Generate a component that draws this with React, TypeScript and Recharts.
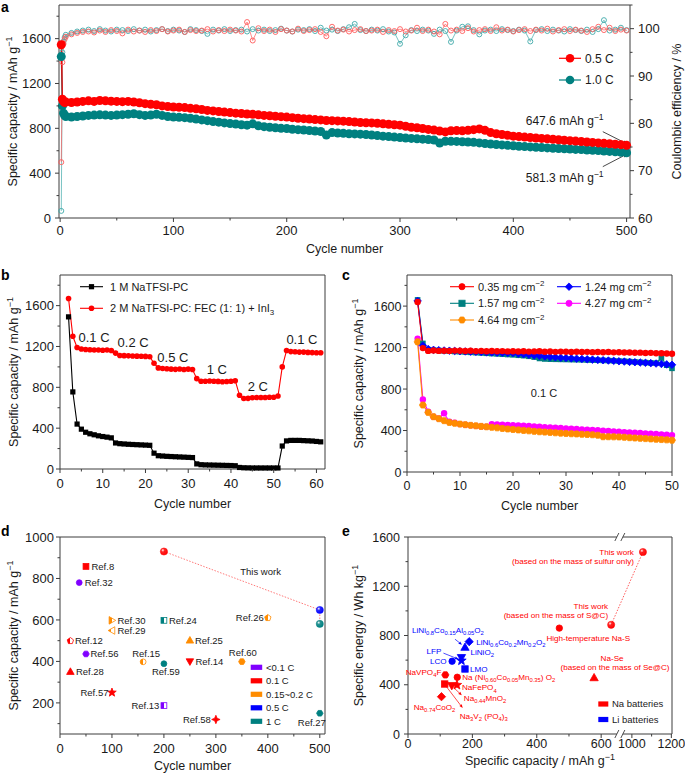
import React from 'react';
import { ComposedChart, Line, Scatter, XAxis, YAxis, ReferenceLine, ReferenceDot, Label } from 'recharts';

const FONT = '"Liberation Sans", Arial, Helvetica, sans-serif';
const AX = '#3c3c3c';
const TXT = '#1a1a1a';
const RED = '#ff0000';
const TEAL = '#008080';
const BLUE = '#0000ff';
const MAGENTA = '#ff00ff';
const ORANGE = '#ff8c00';
const PURPLE = '#8000ff';
const BLACK = '#000000';
const CE_RED = '#ff5a5a';
const CE_TEAL = '#3fa9a9';

// ---------------- Panel a data ----------------
const cycleA = [1, 2, 3, 4, 5,
  10, 15, 20, 25, 30, 35, 40, 45, 50, 55, 60, 65, 70, 75, 80, 85, 90, 95, 100,
  105, 110, 115, 120, 125, 130, 135, 140, 145, 150, 155, 160, 165, 170, 175, 180, 185, 190, 195, 200,
  205, 210, 215, 220, 225, 230, 235, 240, 245, 250, 255, 260, 265, 270, 275, 280, 285, 290, 295, 300,
  305, 310, 315, 320, 325, 330, 335, 340, 345, 350, 355, 360, 365, 370, 375, 380, 385, 390, 395, 400,
  405, 410, 415, 420, 425, 430, 435, 440, 445, 450, 455, 460, 465, 470, 475, 480, 485, 490, 495, 500];
const cap05 = [1545, 1060, 1040, 1030, 1035,
  1030, 1035, 1040, 1045, 1040, 1048, 1045, 1042, 1040, 1038, 1040, 1035, 1028, 1020, 1015, 1010, 1000, 995, 990,
  988, 985, 978, 975, 968, 960, 955, 950, 945, 940, 935, 932, 928, 925, 920, 915, 912, 908, 904, 900,
  895, 890, 886, 882, 878, 875, 870, 868, 866, 864, 860, 856, 852, 850, 848, 845, 840, 836, 832, 828,
  818, 810, 805, 798, 790, 784, 776, 768, 778, 780, 778, 782, 788, 795, 782, 762, 752, 745, 738, 730,
  726, 722, 718, 714, 710, 706, 702, 698, 694, 690, 686, 682, 678, 674, 670, 666, 662, 658, 654, 648];
const cap10 = [1440, 1000, 935, 915, 905,
  900, 905, 910, 915, 918, 920, 918, 915, 918, 922, 925, 930, 922, 915, 918, 925, 915, 905, 900,
  898, 895, 890, 882, 875, 868, 860, 855, 848, 842, 838, 832, 828, 840, 822, 815, 810, 805, 800, 798,
  792, 788, 785, 780, 776, 772, 740, 762, 758, 755, 752, 750, 748, 745, 740, 735, 730, 726, 722, 718,
  714, 710, 706, 703, 700, 696, 668, 685, 684, 683, 680, 678, 675, 670, 665, 660, 656, 652, 648, 644,
  640, 637, 634, 631, 628, 625, 622, 620, 617, 615, 612, 610, 607, 604, 601, 598, 594, 590, 586, 581];
const ce05 = [71.8, 92.9, 96.8, 97.8, 98.3,
  98.8, 99.1, 99.3, 99.4, 99.2, 99.6, 99.3, 99.7, 99.5, 99.0, 99.8, 99.4, 99.6, 99.3, 99.7, 99.5, 99.9, 99.4, 99.6,
  99.8, 99.3, 99.7, 99.5, 99.6, 99.9, 99.4, 99.7, 99.5, 99.8, 99.6, 99.4, 101.4, 97.5, 100.1, 99.5, 99.8, 99.3, 99.9, 99.6,
  99.4, 100.0, 99.5, 99.7, 99.9, 99.3, 98.4, 100.4, 99.6, 99.8, 99.4, 99.7, 99.9, 99.5, 99.6, 99.8, 99.3, 99.7, 99.5, 99.9,
  99.4, 99.6, 100.2, 99.5, 99.8, 99.4, 98.8, 101.0, 99.6, 99.8, 99.5, 100.1, 99.4, 99.7, 99.9, 99.5, 100.3, 99.6, 99.8, 99.4,
  99.7, 99.9, 99.5, 99.8, 99.6, 100.0, 99.4, 99.7, 99.9, 99.5, 99.8, 99.6, 99.3, 99.9, 100.4, 99.7, 100.2, 99.5, 99.8, 99.6];
const ce10 = [61.5, 95.0, 97.3, 98.2, 98.7,
  99.1, 99.4, 99.6, 99.8, 99.5, 99.9, 99.6, 99.4, 99.8, 99.7, 99.5, 99.9, 99.6, 99.8, 99.4, 99.7, 99.9, 99.5, 99.8,
  99.6, 99.3, 99.9, 99.7, 99.5, 98.9, 99.8, 99.6, 99.9, 99.5, 99.7, 99.8, 99.4, 99.9, 99.6, 99.8, 99.5, 99.7, 100.0, 99.6,
  99.4, 99.8, 99.7, 99.9, 99.5, 100.2, 99.6, 99.8, 99.5, 99.9, 100.3, 101.0, 99.7, 99.5, 99.8, 99.6, 99.9, 99.4, 99.2, 96.8,
  98.6, 99.7, 99.5, 99.8, 99.6, 98.9, 99.8, 99.5, 97.2, 99.6, 100.4, 100.5, 99.7, 98.8, 99.6, 99.8, 99.5, 99.9, 99.7, 99.5,
  99.8, 99.6, 97.3, 99.7, 99.9, 99.5, 99.8, 99.6, 99.4, 99.9, 99.7, 99.5, 99.8, 99.3, 99.9, 101.8, 99.6, 99.8, 100.2, 99.7];
const aSeriesNames = ['0.5 C', '1.0 C'];
const aEndLabels = ['647.6 mAh g^{−1}', '581.3 mAh g^{−1}'];
const aXTicks = [0, 50, 100, 150, 200, 250, 300, 350, 400, 450, 500];
const aXMajor = [0, 100, 200, 300, 400, 500];
const aYTicks = [0, 200, 400, 600, 800, 1000, 1200, 1400, 1600, 1800];
const aYMajor = [0, 400, 800, 1200, 1600];
const aCETicks = [60, 65, 70, 75, 80, 85, 90, 95, 100, 105];
const aCEMajor = [60, 70, 80, 90, 100];

// ---------------- Panel b data ----------------
const cycleB = [2, 3, 4, 5, 6, 7, 8, 9, 10, 11, 12, 13, 14, 15, 16, 17, 18, 19, 20, 21, 22, 23, 24, 25, 26, 27, 28, 29, 30, 31,
  32, 33, 34, 35, 36, 37, 38, 39, 40, 41, 42, 43, 44, 45, 46, 47, 48, 49, 50, 51, 52, 53, 54, 55, 56, 57, 58, 59, 60, 61];
const b1M = [1490, 755, 440, 390, 360, 345, 335, 325, 318, 312, 305, 255, 248, 245, 242, 240, 238, 236, 234, 232,
  155, 130, 127, 124, 122, 120, 118, 116, 114, 112, 50, 42, 40, 39, 38, 37, 36, 35, 34, 32,
  15, 12, 11, 10, 10, 10, 10, 10, 10, 10, 225, 275, 280, 280, 280, 278, 276, 274, 270, 266];
const b2M = [1670, 1300, 1190, 1175, 1170, 1168, 1165, 1165, 1163, 1165, 1160, 1135, 1112, 1110, 1108, 1106, 1105, 1104, 1103, 1100,
  1035, 990, 985, 982, 978, 976, 980, 975, 978, 975, 885, 860, 860, 862, 860, 858, 855, 857, 860, 865,
  722, 690, 692, 698, 700, 700, 700, 702, 703, 715, 1000, 1160, 1150, 1148, 1145, 1145, 1142, 1140, 1138, 1138];
const bSeriesNames = ['1 M NaTFSI-PC', '2 M NaTFSI-PC: FEC (1: 1) + InI_{3}'];
const bRateLabels = ['0.1 C', '0.2 C', '0.5 C', '1 C', '2 C', '0.1 C'];
const bXTicks = [0, 5, 10, 15, 20, 25, 30, 35, 40, 45, 50, 55, 60];
const bXMajor = [0, 10, 20, 30, 40, 50, 60];

// ---------------- Panel c data ----------------
const cycleC = [2, 3, 4, 5, 6, 7, 8, 9, 10, 11, 12, 13, 14, 15, 16, 17, 18, 19, 20, 21, 22, 23, 24, 25, 26,
  27, 28, 29, 30, 31, 32, 33, 34, 35, 36, 37, 38, 39, 40, 41, 42, 43, 44, 45, 46, 47, 48, 49, 50];
const c035 = [1640, 1195, 1168, 1172, 1168, 1170, 1168, 1171, 1169, 1167, 1170, 1166, 1168, 1165, 1167, 1164, 1166, 1163, 1165, 1162, 1164, 1161, 1163, 1165, 1160,
  1162, 1159, 1161, 1160, 1158, 1160, 1157, 1159, 1156, 1158, 1155, 1157, 1154, 1155, 1152, 1153, 1150, 1151, 1148, 1149, 1146, 1145, 1143, 1141];
const c124 = [1650, 1220, 1185, 1178, 1175, 1172, 1170, 1168, 1165, 1163, 1161, 1159, 1157, 1155, 1153, 1151, 1150, 1148, 1147, 1140, 1135, 1130, 1125, 1120, 1115,
  1110, 1106, 1102, 1099, 1096, 1093, 1090, 1087, 1084, 1081, 1078, 1075, 1072, 1068, 1065, 1062, 1059, 1056, 1053, 1050, 1046, 1042, 1038, 1034];
const c157 = [1660, 1240, 1180, 1175, 1172, 1168, 1165, 1162, 1160, 1157, 1154, 1151, 1148, 1145, 1142, 1139, 1136, 1133, 1130, 1126, 1122, 1116, 1108, 1095, 1090,
  1088, 1087, 1086, 1085, 1084, 1083, 1082, 1080, 1079, 1078, 1076, 1075, 1073, 1070, 1068, 1065, 1062, 1058, 1055, 1052, 1050, 1100, 1030, 1000];
const c427 = [1285, 700, 582, 533, 517, 566, 485, 475, 462, 456, 450, 445, 440, 436, 462, 458, 455, 453, 452, 449, 446, 443, 440, 436, 433,
  430, 427, 424, 420, 417, 414, 411, 408, 405, 402, 399, 396, 392, 388, 385, 382, 379, 376, 372, 369, 366, 363, 360, 356];
const c464 = [1255, 646, 575, 533, 514, 495, 478, 470, 462, 456, 450, 445, 440, 436, 431, 426, 420, 415, 410, 406, 401, 397, 392, 388, 385,
  382, 378, 375, 372, 369, 367, 364, 362, 359, 355, 340, 340, 339, 338, 335, 331, 328, 325, 322, 319, 316, 313, 310, 307];
const cSeriesNames = ['0.35 mg cm^{−2}', '1.24 mg cm^{−2}', '1.57 mg cm^{−2}', '4.27 mg cm^{−2}', '4.64 mg cm^{−2}'];
const cXTicks = [0, 5, 10, 15, 20, 25, 30, 35, 40, 45, 50];
const cXMajor = [0, 10, 20, 30, 40, 50];

// ---------------- Panel d data ----------------
const dNames = ['Ref.8', 'Ref.32', 'Ref.30', 'Ref.29', 'Ref.12', 'Ref.56', 'Ref.28', 'Ref.57', 'Ref.15', 'Ref.59', 'Ref.24', 'Ref.13', 'Ref.25', 'Ref.14', 'Ref.58', 'Ref.60', 'Ref.26', 'Ref.27'];
const dCycles = [50, 37, 100, 100, 20, 50, 20, 100, 160, 200, 200, 200, 250, 250, 300, 350, 400, 500];
const dCaps = [858, 780, 598, 549, 499, 436, 351, 250, 398, 389, 598, 187, 502, 399, 120, 399, 610, 150];
const dRates = ['0.1 C', '<0.1 C', '0.15~0.2 C', '0.15~0.2 C', '0.1 C', '<0.1 C', '0.1 C', '0.1 C', '0.15~0.2 C', '1 C', '1 C', '<0.1 C', '0.15~0.2 C', '0.1 C', '0.1 C', '0.15~0.2 C', '0.15~0.2 C', '1 C'];
const twCycles = [200, 500, 500];
const twCaps = [930, 648, 581];
const twRates = ['0.1 C', '0.5 C', '1 C'];
const dLegendRates = ['<0.1 C', '0.1 C', '0.15~0.2 C', '0.5 C', '1 C'];
const dXTicks = [0, 50, 100, 150, 200, 250, 300, 350, 400, 450, 500];
const dXMajor = [0, 100, 200, 300, 400, 500];
const dYTicks = [100, 200, 300, 400, 500, 600, 700, 800, 900, 1000];
const dYMajor = [200, 400, 600, 800, 1000];

// ---------------- Panel e data ----------------
const eNames = ['This work (sulfur)', 'This work (S@C)', 'High-temperature Na-S', 'Na-Se', 'NaVPO4F', 'Na(Ni0.60Co0.05Mn0.35)O2',
  'Na3V2(PO4)3', 'Na0.44MnO2', 'NaFePO4', 'Na0.74CoO2', 'LiNi0.8Co0.15Al0.05O2', 'LiNi0.6Co0.2Mn0.2O2', 'LiNiO2', 'LFP', 'LCO', 'LMO'];
const eCap = [1056, 631, 470, 578, 116, 153, 114, 136, 152, 104, 177, 190, 166, 166, 137, 177];
const eEnergy = [1478, 887, 860, 458, 480, 461, 406, 392, 398, 303, 705, 750, 620, 596, 591, 528];
const eType = ['Na', 'Na', 'Na', 'Na', 'Na', 'Na', 'Na', 'Na', 'Na', 'Na', 'Li', 'Li', 'Li', 'Li', 'Li', 'Li'];
const eLegend = ['Na batteries', 'Li batteries'];
const eXTicksReal = [0, 100, 200, 300, 400, 500, 600, 1000, 1100, 1200];
const eXMajorReal = [0, 200, 400, 600, 1000, 1200];
const eYTicks = [0, 200, 400, 600, 800, 1000, 1200, 1400, 1600];
const eYMajor = [0, 400, 800, 1200, 1600];

// ---------------- styles / layout (kept apart from data) ----------------
const RATE_COLOR: Record<string, string> = { '<0.1 C': PURPLE, '0.1 C': RED, '0.15~0.2 C': ORANGE, '0.5 C': BLUE, '1 C': TEAL };
const RATE_KEY: Record<string, string> = { '<0.1 C': 'p', '0.1 C': 'r', '0.15~0.2 C': 'o', '0.5 C': 'b', '1 C': 't' };
const TYPE_COLOR: Record<string, string> = { Na: RED, Li: BLUE };

const BREAK_LO = 658;
const BREAK_HI = 939;
const BREAK_RATIO = 0.613;
const brk = (v: number) => (v <= BREAK_LO ? v : BREAK_LO + (v - BREAK_HI) * BREAK_RATIO);
const unbrk = (u: number) => (u <= BREAK_LO + 1e-9 ? u : BREAK_HI + (u - BREAK_LO) / BREAK_RATIO);

type LabelSpec = { t: string; dx: number; dy: number; a?: 'start' | 'middle' | 'end' };
type DStyle = { kind: string; half?: boolean; lab: LabelSpec };
const D_STYLE: Record<string, DStyle> = {
  'Ref.8': { kind: 'square', lab: { t: 'Ref.8', dx: 5.5, dy: 0 } },
  'Ref.32': { kind: 'circle', lab: { t: 'Ref.32', dx: 5.5, dy: 0 } },
  'Ref.30': { kind: 'triRight', half: true, lab: { t: 'Ref.30', dx: 5.5, dy: 0 } },
  'Ref.29': { kind: 'triLeft', half: true, lab: { t: 'Ref.29', dx: 5.5, dy: 0 } },
  'Ref.12': { kind: 'pent', half: true, lab: { t: 'Ref.12', dx: 4.5, dy: 0 } },
  'Ref.56': { kind: 'hex', lab: { t: 'Ref.56', dx: 4.5, dy: 0 } },
  'Ref.28': { kind: 'triUp', lab: { t: 'Ref.28', dx: 5.5, dy: 0 } },
  'Ref.57': { kind: 'star', lab: { t: 'Ref.57', dx: -3.5, dy: 0, a: 'end' } },
  'Ref.15': { kind: 'circle', half: true, lab: { t: 'Ref.15', dx: 3, dy: -8.5, a: 'middle' } },
  'Ref.59': { kind: 'circle', lab: { t: 'Ref.59', dx: 2, dy: 8, a: 'middle' } },
  'Ref.24': { kind: 'square', half: true, lab: { t: 'Ref.24', dx: 5, dy: 0 } },
  'Ref.13': { kind: 'square', half: true, lab: { t: 'Ref.13', dx: -4.5, dy: 0, a: 'end' } },
  'Ref.25': { kind: 'triUp', lab: { t: 'Ref.25', dx: 5, dy: 0 } },
  'Ref.14': { kind: 'triDown', lab: { t: 'Ref.14', dx: 5.5, dy: 0 } },
  'Ref.58': { kind: 'star4', lab: { t: 'Ref.58', dx: -5, dy: 0, a: 'end' } },
  'Ref.60': { kind: 'hex', lab: { t: 'Ref.60', dx: 1, dy: -9.5, a: 'middle' } },
  'Ref.26': { kind: 'pent', half: true, lab: { t: 'Ref.26', dx: -4, dy: 0, a: 'end' } },
  'Ref.27': { kind: 'hex', lab: { t: 'Ref.27', dx: -8, dy: 9, a: 'middle' } },
};

type EStyle = { kind: string; labs: LabelSpec[]; arrow?: [number, number, number, number] };
const E_STYLE: Record<string, EStyle> = {
  'This work (sulfur)': { kind: 'sphere', labs: [{ t: 'This work', dx: -9, dy: 0, a: 'end' }, { t: '(based on the mass of sulfur only)', dx: -9, dy: 9.5, a: 'end' }] },
  'This work (S@C)': { kind: 'sphere', labs: [{ t: 'This work', dx: -3, dy: -19, a: 'end' }, { t: '(based on the mass of S@C)', dx: -3, dy: -10, a: 'end' }] },
  'High-temperature Na-S': { kind: 'circle', labs: [{ t: 'High-temperature Na-S', dx: 29, dy: 9.5, a: 'middle' }] },
  'Na-Se': { kind: 'triUp', labs: [{ t: 'Na-Se', dx: 18, dy: -20, a: 'middle' }, { t: '(based on the mass of Se@C)', dx: 21, dy: -11, a: 'middle' }] },
  'NaVPO4F': { kind: 'hex', labs: [{ t: 'NaVPO_{4}F', dx: -4, dy: -3, a: 'end' }] },
  'Na(Ni0.60Co0.05Mn0.35)O2': { kind: 'circle', labs: [{ t: 'Na (Ni_{0.60}Co_{0.05}Mn_{0.35}) O_{2}', dx: 5, dy: 0 }] },
  'Na3V2(PO4)3': { kind: 'square', labs: [{ t: 'Na_{3}V_{2} (PO_{4})_{3}', dx: 15, dy: 32 }], arrow: [2, 3, 18, 24] },
  'Na0.44MnO2': { kind: 'triDown', labs: [{ t: 'Na_{0.44}MnO_{2}', dx: 12, dy: 12 }], arrow: [2, 2, 10, 9.5] },
  'NaFePO4': { kind: 'star', labs: [{ t: 'NaFePO_{4}', dx: 5, dy: 2.5 }] },
  'Na0.74CoO2': { kind: 'diamond', labs: [{ t: 'Na_{0.74}CoO_{2}', dx: -7, dy: 10, a: 'middle' }] },
  'LiNi0.8Co0.15Al0.05O2': { kind: 'triUp', labs: [{ t: 'LiNi_{0.8}Co_{0.15}Al_{0.05}O_{2}', dx: -53, dy: -17 }], arrow: [-10, -8, -3, -2.5] },
  'LiNi0.6Co0.2Mn0.2O2': { kind: 'diamond', labs: [{ t: 'LiNi_{0.6}Co_{0.2}Mn_{0.2}O_{2}', dx: 7, dy: 0 }] },
  'LiNiO2': { kind: 'triDown', labs: [{ t: 'LiNiO_{2}', dx: 9, dy: -6 }] },
  'LFP': { kind: 'star', labs: [{ t: 'LFP', dx: -20, dy: -10, a: 'end' }], arrow: [-18, -7.5, -3, -1.5] },
  'LCO': { kind: 'circle', labs: [{ t: 'LCO', dx: -5.5, dy: 0, a: 'end' }] },
  'LMO': { kind: 'square', labs: [{ t: 'LMO', dx: 5, dy: 0 }] },
};

// ---------------- helpers ----------------
type Part = { t: string; k: 'n' | 'sup' | 'sub' };
function parseRich(s: string): Part[] {
  const out: Part[] = [];
  let buf = '';
  let i = 0;
  while (i < s.length) {
    if ((s[i] === '^' || s[i] === '_') && s[i + 1] === '{') {
      if (buf) { out.push({ t: buf, k: 'n' }); buf = ''; }
      const end = s.indexOf('}', i);
      out.push({ t: s.slice(i + 2, end), k: s[i] === '^' ? 'sup' : 'sub' });
      i = end + 1;
    } else { buf += s[i]; i += 1; }
  }
  if (buf) out.push({ t: buf, k: 'n' });
  return out;
}

function Rich({ x, y, text, fs = 12, fill = TXT, anchor = 'start', rotate = 0, weight = 'normal' }: any) {
  const parts = parseRich(text);
  let cur = 0;
  const kids = parts.map((p, i) => {
    const target = p.k === 'sup' ? -fs * 0.38 : p.k === 'sub' ? fs * 0.28 : 0;
    const dy = target - cur;
    cur = target;
    return (<tspan key={i} dy={dy} fontSize={p.k === 'n' ? fs : fs * 0.72}>{p.t}</tspan>);
  });
  return (
    <text x={x} y={y} textAnchor={anchor} fontSize={fs} fill={fill} fontFamily={FONT} fontWeight={weight}
      transform={rotate ? `rotate(${rotate} ${x} ${y})` : undefined}>{kids}</text>
  );
}

const ptsStr = (pts: number[][]) => pts.map((p) => `${p[0].toFixed(2)},${p[1].toFixed(2)}`).join(' ');
function starPts(cx: number, cy: number, ro: number, ri: number, n: number) {
  const pts: number[][] = [];
  for (let k = 0; k < 2 * n; k++) {
    const a = -Math.PI / 2 + (k * Math.PI) / n;
    const rr = k % 2 === 0 ? ro : ri;
    pts.push([cx + rr * Math.cos(a), cy + rr * Math.sin(a)]);
  }
  return pts;
}
function regPts(cx: number, cy: number, r: number, n: number, rot = -Math.PI / 2) {
  const pts: number[][] = [];
  for (let k = 0; k < n; k++) {
    const a = rot + (k * 2 * Math.PI) / n;
    pts.push([cx + r * Math.cos(a), cy + r * Math.sin(a)]);
  }
  return pts;
}

function Mk({ kind, cx, cy, r, fill, stroke, sw = 0.8 }: any) {
  const c = { fill, stroke: stroke ?? fill, strokeWidth: sw };
  const d = r * 1.3;
  switch (kind) {
    case 'circle': return <circle cx={cx} cy={cy} r={r} {...c} />;
    case 'sphere': return <circle cx={cx} cy={cy} r={r} {...c} />;
    case 'square': return <rect x={cx - r} y={cy - r} width={2 * r} height={2 * r} {...c} />;
    case 'diamond': return <polygon points={ptsStr([[cx, cy - d], [cx + d, cy], [cx, cy + d], [cx - d, cy]])} {...c} />;
    case 'triUp': return <polygon points={ptsStr([[cx, cy - d], [cx + d, cy + d * 0.75], [cx - d, cy + d * 0.75]])} {...c} />;
    case 'triDown': return <polygon points={ptsStr([[cx, cy + d], [cx + d, cy - d * 0.75], [cx - d, cy - d * 0.75]])} {...c} />;
    case 'triLeft': return <polygon points={ptsStr([[cx - d, cy], [cx + d * 0.75, cy - d], [cx + d * 0.75, cy + d]])} {...c} />;
    case 'triRight': return <polygon points={ptsStr([[cx + d, cy], [cx - d * 0.75, cy - d], [cx - d * 0.75, cy + d]])} {...c} />;
    case 'star': return <polygon points={ptsStr(starPts(cx, cy, r * 1.55, r * 0.65, 5))} {...c} />;
    case 'star4': return <polygon points={ptsStr(starPts(cx, cy, r * 1.45, r * 0.6, 4))} {...c} />;
    case 'hex': return <polygon points={ptsStr(regPts(cx, cy, r * 1.12, 6, 0))} {...c} />;
    case 'pent': return <polygon points={ptsStr(regPts(cx, cy, r * 1.15, 5))} {...c} />;
    default: return <circle cx={cx} cy={cy} r={r} {...c} />;
  }
}

function Arrow({ x1, y1, x2, y2, color, head = 4, sw = 0.8 }: any) {
  const a = Math.atan2(y2 - y1, x2 - x1);
  const hx = x2 - head * Math.cos(a);
  const hy = y2 - head * Math.sin(a);
  const px = -Math.sin(a) * head * 0.42;
  const py = Math.cos(a) * head * 0.42;
  return (
    <g>
      <line x1={x1} y1={y1} x2={hx} y2={hy} stroke={color} strokeWidth={sw} />
      <polygon points={ptsStr([[x2, y2], [hx + px, hy + py], [hx - px, hy - py]])} fill={color} />
    </g>
  );
}

type TickOpt = { fs?: number; gap?: number; fmt?: (v: number) => string };
function tickFn(side: 'bottom' | 'left' | 'right', majors: number[], opt: TickOpt = {}) {
  const fs = opt.fs ?? 13;
  const gap = opt.gap ?? 7;
  return (p: any) => {
    const x = Number(p.x);
    const y = Number(p.y);
    const v = Number(p.payload?.value);
    const major = majors.some((m) => Math.abs(m - v) < 1e-6);
    const L = major ? 4 : 2.5;
    const lab = major ? (opt.fmt ? opt.fmt(v) : String(v)) : '';
    if (side === 'bottom') {
      return (
        <g>
          <line x1={x} y1={y} x2={x} y2={y + L} stroke={AX} strokeWidth={1} />
          {lab ? <text x={x} y={y + gap} textAnchor="middle" fontSize={fs} fill={TXT} fontFamily={FONT}>{lab}</text> : null}
        </g>
      );
    }
    if (side === 'left') {
      return (
        <g>
          <line x1={x} y1={y} x2={x - L} y2={y} stroke={AX} strokeWidth={1} />
          {lab ? <text x={x - gap} y={y + fs * 0.36} textAnchor="end" fontSize={fs} fill={TXT} fontFamily={FONT}>{lab}</text> : null}
        </g>
      );
    }
    return (
      <g>
        <line x1={x} y1={y} x2={x + L} y2={y} stroke={AX} strokeWidth={1} />
        {lab ? <text x={x + gap} y={y + fs * 0.36} textAnchor="start" fontSize={fs} fill={TXT} fontFamily={FONT}>{lab}</text> : null}
      </g>
    );
  };
}

const xTitle = (text: string, dy: number, fs = 12.5) => (p: any) => {
  const vb = p.viewBox || {};
  return <Rich x={vb.x + vb.width / 2} y={vb.y + dy} text={text} fs={fs} anchor="middle" />;
};
const yTitle = (text: string, xFromLeft: number, fs = 12.5) => (p: any) => {
  const vb = p.viewBox || {};
  const cx = vb.x + xFromLeft;
  const cy = vb.y + vb.height / 2;
  return <Rich x={cx + fs * 0.36} y={cy} text={text} fs={fs} anchor="middle" rotate={-90} />;
};

const annot = (text: string, fs: number, anchor: string = 'middle', fill: string = TXT) => (p: any) => (
  <Rich x={p.cx} y={p.cy + fs * 0.36} text={text} fs={fs} anchor={anchor} fill={fill} />
);
const arrowShape = (color: string) => (p: any) => (
  <Arrow x1={p.x1} y1={p.y1} x2={p.x2} y2={p.y2} color={color} head={4.5} sw={0.8} />
);

const axisCommon = { tickSize: 0, tickMargin: 0, tickLine: false, interval: 0 as const, stroke: AX };

// layout of in-plot annotations (data coordinates)
const B_RATE_POS = [[7.96, 1286], [17.1, 1237], [26.4, 1090], [36.7, 973], [46.3, 807], [56.6, 1267]];
const A_LABEL_POS = [[411, 868], [411, 363]];
const A_ARROWS = [[[479, 770], [501, 658]], [[479, 458], [501, 574]]];

// ---------------- charts ----------------
function PanelA() {
  const rows = cycleA.map((c, i) => ({ c, cap05: cap05[i], cap10: cap10[i], ce05: ce05[i], ce10: ce10[i] }));
  return (
    <ComposedChart width={685} height={262} data={rows} margin={{ top: 5, right: 0, bottom: 0, left: 0 }}>
      <XAxis dataKey="c" type="number" domain={[-1, 503]} ticks={aXTicks} height={44} {...axisCommon}
        tick={tickFn('bottom', aXMajor, { fs: 13, gap: 17 })}>
        <Label content={xTitle('Cycle number', 34.5)} />
      </XAxis>
      <YAxis yAxisId="cap" type="number" domain={[0, 1900]} ticks={aYTicks} width={59} {...axisCommon}
        tick={tickFn('left', aYMajor, { fs: 13, gap: 8 })}>
        <Label content={yTitle('Specific capacity / mAh g^{−1}', 12)} />
      </YAxis>
      <YAxis yAxisId="ce" orientation="right" type="number" domain={[60, 105]} ticks={aCETicks} width={55} {...axisCommon}
        tick={tickFn('right', aCEMajor, { fs: 13, gap: 8 })}>
        <Label content={yTitle('Coulombic efficiency / %', 46)} />
      </YAxis>
      <ReferenceLine yAxisId="cap" y={1900} stroke={AX} strokeWidth={1} />
      <Line yAxisId="ce" dataKey="ce10" stroke={CE_TEAL} strokeWidth={0.7} isAnimationActive={false} activeDot={false}
        dot={{ r: 2.5, fill: 'none', stroke: CE_TEAL, strokeWidth: 0.9 }} />
      <Line yAxisId="ce" dataKey="ce05" stroke={CE_RED} strokeWidth={0.7} isAnimationActive={false} activeDot={false}
        dot={{ r: 2.5, fill: 'none', stroke: CE_RED, strokeWidth: 0.9 }} />
      <Line yAxisId="cap" dataKey="cap10" name={aSeriesNames[1]} stroke={TEAL} strokeWidth={1.2} isAnimationActive={false} activeDot={false}
        dot={{ r: 4.5, fill: TEAL, stroke: TEAL, strokeWidth: 0 }} />
      <Line yAxisId="cap" dataKey="cap05" name={aSeriesNames[0]} stroke={RED} strokeWidth={1.2} isAnimationActive={false} activeDot={false}
        dot={{ r: 4.5, fill: RED, stroke: RED, strokeWidth: 0 }} />
      {A_ARROWS.map((seg, i) => (
        <ReferenceLine key={`aa${i}`} yAxisId="cap" segment={[{ x: seg[0][0], y: seg[0][1] }, { x: seg[1][0], y: seg[1][1] }]}
          stroke={TXT} ifOverflow="visible" shape={arrowShape(TXT)} />
      ))}
      {aEndLabels.map((t, i) => (
        <ReferenceDot key={`al${i}`} yAxisId="cap" x={A_LABEL_POS[i][0]} y={A_LABEL_POS[i][1]} r={0} ifOverflow="visible"
          shape={annot(t, 12, 'start')} />
      ))}
    </ComposedChart>
  );
}

const squareDot = (color: string, s: number, tag: string) => (p: any) => (
  <rect key={`${tag}${p.index}`} x={p.cx - s / 2} y={p.cy - s / 2} width={s} height={s} fill={color} />
);
const mkDot = (kind: string, color: string, r: number, tag: string) => (p: any) => (
  <g key={`${tag}${p.index}`}><Mk kind={kind} cx={p.cx} cy={p.cy} r={r} fill={color} /></g>
);

function PanelB() {
  const rows = cycleB.map((c, i) => ({ c, b1: b1M[i], b2: b2M[i] }));
  return (
    <ComposedChart width={330} height={262} data={rows} margin={{ top: 5, right: 5, bottom: 0, left: 0 }}>
      <XAxis dataKey="c" type="number" domain={[0, 62]} ticks={bXTicks} height={63} {...axisCommon}
        tick={tickFn('bottom', bXMajor, { fs: 13, gap: 18.5 })}>
        <Label content={xTitle('Cycle number', 38.5)} />
      </XAxis>
      <YAxis type="number" domain={[0, 1900]} ticks={aYTicks} width={60} {...axisCommon}
        tick={tickFn('left', aYMajor, { fs: 13, gap: 6 })}>
        <Label content={yTitle('Specific capacity / mAh g^{−1}', 13.3)} />
      </YAxis>
      <ReferenceLine y={1900} stroke={AX} strokeWidth={1} />
      <ReferenceLine x={62} stroke={AX} strokeWidth={1} />
      <Line dataKey="b1" name={bSeriesNames[0]} stroke={BLACK} strokeWidth={1.1} isAnimationActive={false} activeDot={false}
        dot={squareDot(BLACK, 5.2, 'b1')} />
      <Line dataKey="b2" name={bSeriesNames[1]} stroke={RED} strokeWidth={1.1} isAnimationActive={false} activeDot={false}
        dot={{ r: 2.8, fill: RED, stroke: RED, strokeWidth: 0 }} />
      {bRateLabels.map((t, i) => (
        <ReferenceDot key={`br${i}`} x={B_RATE_POS[i][0]} y={B_RATE_POS[i][1]} r={0} ifOverflow="visible" shape={annot(t, 13)} />
      ))}
    </ComposedChart>
  );
}

function PanelC() {
  const rows = cycleC.map((c, i) => ({ c, s1: c035[i], s2: c124[i], s3: c157[i], s4: c427[i], s5: c464[i] }));
  return (
    <ComposedChart width={340} height={262} data={rows} margin={{ top: 5, right: 8, bottom: 0, left: 0 }}>
      <XAxis dataKey="c" type="number" domain={[0, 50]} ticks={cXTicks} height={60} {...axisCommon}
        tick={tickFn('bottom', cXMajor, { fs: 12.5, gap: 18 })}>
        <Label content={xTitle('Cycle number', 38)} />
      </XAxis>
      <YAxis type="number" domain={[0, 1900]} ticks={aYTicks} width={67} {...axisCommon}
        tick={tickFn('left', aYMajor, { fs: 12.5, gap: 5.5 })}>
        <Label content={yTitle('Specific capacity / mAh g^{−1}', 18.3)} />
      </YAxis>
      <ReferenceLine y={1900} stroke={AX} strokeWidth={1} />
      <ReferenceLine x={50} stroke={AX} strokeWidth={1} />
      <Line dataKey="s4" name={cSeriesNames[3]} stroke={MAGENTA} strokeWidth={1.1} isAnimationActive={false} activeDot={false}
        dot={{ r: 3.2, fill: MAGENTA, stroke: MAGENTA, strokeWidth: 0 }} />
      <Line dataKey="s5" name={cSeriesNames[4]} stroke={ORANGE} strokeWidth={1.1} isAnimationActive={false} activeDot={false}
        dot={mkDot('hex', ORANGE, 3.1, 'c5')} />
      <Line dataKey="s3" name={cSeriesNames[2]} stroke={TEAL} strokeWidth={1.1} isAnimationActive={false} activeDot={false}
        dot={squareDot(TEAL, 5.6, 'c3')} />
      <Line dataKey="s2" name={cSeriesNames[1]} stroke={BLUE} strokeWidth={1.1} isAnimationActive={false} activeDot={false}
        dot={mkDot('diamond', BLUE, 2.9, 'c2')} />
      <Line dataKey="s1" name={cSeriesNames[0]} stroke={RED} strokeWidth={1.1} isAnimationActive={false} activeDot={false}
        dot={{ r: 3.2, fill: RED, stroke: RED, strokeWidth: 0 }} />
      <ReferenceDot x={25.85} y={759} r={0} ifOverflow="visible" shape={annot('0.1 C', 11)} />
    </ComposedChart>
  );
}

function GradDefs({ prefix }: { prefix: string }) {
  const cols: Record<string, string> = { r: RED, o: ORANGE, p: PURPLE, t: TEAL, b: BLUE };
  return (
    <>
      {Object.keys(cols).map((k) => (
        <radialGradient key={`s${k}`} id={`${prefix}sph-${k}`} cx="0.35" cy="0.32" r="0.7">
          <stop offset="0" stopColor="#ffffff" />
          <stop offset="0.35" stopColor={cols[k]} stopOpacity={0.85} />
          <stop offset="1" stopColor={cols[k]} />
        </radialGradient>
      ))}
      {Object.keys(cols).map((k) => (
        <linearGradient key={`h${k}`} id={`${prefix}half-${k}`} x1="0" y1="0" x2="1" y2="0">
          <stop offset="0" stopColor={cols[k]} />
          <stop offset="0.5" stopColor={cols[k]} />
          <stop offset="0.5" stopColor="#ffffff" />
          <stop offset="1" stopColor="#ffffff" />
        </linearGradient>
      ))}
    </>
  );
}

function PanelD() {
  const refRows = dNames.map((n, i) => ({ x: dCycles[i], y: dCaps[i], name: n, rate: dRates[i] }));
  const twRows = twCycles.map((c, i) => ({ x: c, y: twCaps[i], rate: twRates[i] }));
  const refShape = (p: any) => {
    const name = p.payload?.name ?? p.name;
    const rate = p.payload?.rate ?? p.rate;
    const st = D_STYLE[name];
    const col = RATE_COLOR[rate];
    const fill = st.half ? `url(#dhalf-${RATE_KEY[rate]})` : col;
    const fs = 9.5;
    return (
      <g>
        <Mk kind={st.kind} cx={p.cx} cy={p.cy} r={2.9} fill={fill} stroke={col} />
        <Rich x={p.cx + st.lab.dx} y={p.cy + st.lab.dy + fs * 0.36} text={st.lab.t} fs={fs} anchor={st.lab.a ?? 'start'} />
      </g>
    );
  };
  const twShape = (p: any) => {
    const rate = p.payload?.rate ?? p.rate;
    return <circle cx={p.cx} cy={p.cy} r={3.6} fill={`url(#dsph-${RATE_KEY[rate]})`} stroke={RATE_COLOR[rate]} strokeWidth={0.5} />;
  };
  return (
    <ComposedChart width={330} height={246} margin={{ top: 7, right: 5, bottom: 0, left: 0 }}>
      <defs><GradDefs prefix="d" /></defs>
      <XAxis dataKey="x" type="number" domain={[0, 510]} ticks={dXTicks} height={42} {...axisCommon}
        tick={tickFn('bottom', dXMajor, { fs: 13, gap: 19 })}>
        <Label content={xTitle('Cycle number', 35.5)} />
      </XAxis>
      <YAxis dataKey="y" type="number" domain={[50, 1000]} ticks={dYTicks} width={60} {...axisCommon}
        tick={tickFn('left', dYMajor, { fs: 13, gap: 6 })}>
        <Label content={yTitle('Specific capacity / mAh g^{−1}', 13.3)} />
      </YAxis>
      <ReferenceLine y={1000} stroke={AX} strokeWidth={1} />
      <ReferenceLine x={510} stroke={AX} strokeWidth={1} />
      <ReferenceDot x={386} y={833} r={0} ifOverflow="visible" shape={annot('This work', 9.5)} />
      <Scatter data={refRows} shape={refShape} isAnimationActive={false} />
      <Scatter data={twRows} shape={twShape} isAnimationActive={false}
        line={{ stroke: '#ff7a7a', strokeWidth: 1, strokeDasharray: '1.5 1.5' }} lineType="joint" />
    </ComposedChart>
  );
}

function PanelE() {
  const rows = eNames.map((n, i) => ({ x: brk(eCap[i]), y: eEnergy[i], name: n, type: eType[i] }));
  const twRows = rows.filter((r) => r.name.startsWith('This work')).slice().reverse();
  const others = rows.filter((r) => !r.name.startsWith('This work'));
  const fs = 8.1;
  const draw = (p: any) => {
    const name = p.payload?.name ?? p.name;
    const type = p.payload?.type ?? p.type;
    const st = E_STYLE[name];
    const col = TYPE_COLOR[type];
    const markFill = st.kind === 'sphere' ? 'url(#esph-r)' : col;
    return (
      <g>
        {st.arrow ? <Arrow x1={p.cx + st.arrow[0]} y1={p.cy + st.arrow[1]} x2={p.cx + st.arrow[2]} y2={p.cy + st.arrow[3]} color={col} head={3.5} sw={0.7} /> : null}
        <Mk kind={st.kind} cx={p.cx} cy={p.cy} r={st.kind === 'sphere' ? 3.6 : 3.2} fill={markFill} stroke={col} sw={st.kind === 'sphere' ? 0.5 : 0.8} />
        {st.labs.map((l, i) => (
          <Rich key={i} x={p.cx + l.dx} y={p.cy + l.dy + fs * 0.36} text={l.t} fs={fs} fill={col} anchor={l.a ?? 'start'} />
        ))}
      </g>
    );
  };
  const breakMark = (p: any) => (
    <g>
      <rect x={p.cx - 3} y={p.cy - 2} width={6} height={4} fill="#ffffff" />
      <line x1={p.cx - 5} y1={p.cy + 4} x2={p.cx - 1} y2={p.cy - 4} stroke={AX} strokeWidth={0.9} />
      <line x1={p.cx + 1} y1={p.cy + 4} x2={p.cx + 5} y2={p.cy - 4} stroke={AX} strokeWidth={0.9} />
    </g>
  );
  const xTickPos = eXTicksReal.map(brk);
  const xMajorPos = eXMajorReal.map(brk);
  return (
    <ComposedChart width={345} height={246} margin={{ top: 7, right: 13, bottom: 0, left: 0 }}>
      <defs><GradDefs prefix="e" /></defs>
      <XAxis dataKey="x" type="number" domain={[0, 820]} ticks={xTickPos} height={42} {...axisCommon}
        tick={tickFn('bottom', xMajorPos, { fs: 12.5, gap: 14, fmt: (v) => String(Math.round(unbrk(v))) })}>
        <Label content={xTitle('Specific capacity / mAh g^{−1}', 30.5)} />
      </XAxis>
      <YAxis dataKey="y" type="number" domain={[0, 1600]} ticks={eYTicks} width={68} {...axisCommon}
        tick={tickFn('left', eYMajor, { fs: 12.5, gap: 8 })}>
        <Label content={yTitle('Specific energy / Wh kg^{−1}', 18.3)} />
      </YAxis>
      <ReferenceLine y={1600} stroke={AX} strokeWidth={1} />
      <ReferenceLine x={820} stroke={AX} strokeWidth={1} />
      <Scatter data={twRows} shape={draw} isAnimationActive={false}
        line={{ stroke: '#ff5a5a', strokeWidth: 1, strokeDasharray: '1.5 1.5' }} lineType="joint" />
      <Scatter data={others} shape={draw} isAnimationActive={false} />
      <ReferenceDot x={BREAK_LO} y={0} r={0} ifOverflow="visible" shape={breakMark} />
      <ReferenceDot x={BREAK_LO} y={1600} r={0} ifOverflow="visible" shape={breakMark} />
    </ComposedChart>
  );
}

// ---------------- overlay: panel letters + legends ----------------
function Overlay() {
  const lf = 12;
  return (
    <svg width={685} height={776} style={{ position: 'absolute', left: 0, top: 0, pointerEvents: 'none' }}>
      {[['a', 1, 12], ['b', 1, 280], ['c', 342, 280], ['d', 1, 536], ['e', 342, 536]].map(([t, x, y]) => (
        <text key={String(t)} x={Number(x)} y={Number(y)} fontSize={14} fontWeight="bold" fontFamily={FONT} fill="#000">{t}</text>
      ))}
      {[RED, TEAL].map((col, i) => (
        <g key={`la${i}`}>
          <line x1={559} y1={58.3 + i * 21.7} x2={581} y2={58.3 + i * 21.7} stroke={col} strokeWidth={1.2} />
          <circle cx={570} cy={58.3 + i * 21.7} r={4.3} fill={col} />
          <Rich x={585} y={58.3 + i * 21.7 + lf * 0.36} text={aSeriesNames[i]} fs={lf} />
        </g>
      ))}
      <g>
        <line x1={80} y1={286.7} x2={103} y2={286.7} stroke={BLACK} strokeWidth={1.1} />
        <rect x={91.5 - 2.6} y={286.7 - 2.6} width={5.2} height={5.2} fill={BLACK} />
        <Rich x={110} y={286.7 + 11 * 0.36} text={bSeriesNames[0]} fs={11} />
        <line x1={80} y1={308.3} x2={103} y2={308.3} stroke={RED} strokeWidth={1.1} />
        <circle cx={91.5} cy={308.3} r={2.8} fill={RED} />
        <Rich x={110} y={308.3 + 11 * 0.36} text={bSeriesNames[1]} fs={11} />
      </g>
      {[
        { i: 0, x: 450, y: 286.7, kind: 'circle', col: RED },
        { i: 1, x: 557, y: 286.7, kind: 'diamond', col: BLUE },
        { i: 2, x: 450, y: 303.3, kind: 'square', col: TEAL },
        { i: 3, x: 557, y: 303.3, kind: 'circle', col: MAGENTA },
        { i: 4, x: 450, y: 320, kind: 'hex', col: ORANGE },
      ].map((it) => (
        <g key={`lc${it.i}`}>
          <line x1={it.x} y1={it.y} x2={it.x + 24} y2={it.y} stroke={it.col} strokeWidth={1.1} />
          <Mk kind={it.kind} cx={it.x + 12} cy={it.y} r={it.kind === 'diamond' ? 2.9 : 3.1} fill={it.col} />
          <Rich x={it.x + 28} y={it.y + 11 * 0.36} text={cSeriesNames[it.i]} fs={11} />
        </g>
      ))}
      {dLegendRates.map((r, i) => (
        <g key={`ld${i}`}>
          <rect x={250.7} y={667.3 + i * 13.5 - 2.6} width={11.5} height={5.2} fill={RATE_COLOR[r]} />
          <Rich x={266} y={667.3 + i * 13.5 + 9.5 * 0.36} text={r} fs={9.5} />
        </g>
      ))}
      {eLegend.map((t, i) => (
        <g key={`le${i}`}>
          <rect x={598.3} y={704 + i * 15.5 - 2.6} width={10} height={5.2} fill={i === 0 ? RED : BLUE} />
          <Rich x={612} y={704 + i * 15.5 + 9.5 * 0.36} text={t} fs={9.5} />
        </g>
      ))}
    </svg>
  );
}

export default function App() {
  return (
    <div style={{ position: 'absolute', left: 0, top: 0, width: 685, height: 776, background: '#fff', fontFamily: FONT, overflow: 'hidden' }}>
      <div style={{ position: 'absolute', left: 0, top: 0 }}><PanelA /></div>
      <div style={{ position: 'absolute', left: 0, top: 270 }}><PanelB /></div>
      <div style={{ position: 'absolute', left: 340, top: 270 }}><PanelC /></div>
      <div style={{ position: 'absolute', left: 0, top: 530 }}><PanelD /></div>
      <div style={{ position: 'absolute', left: 340, top: 530 }}><PanelE /></div>
      <Overlay />
    </div>
  );
}
